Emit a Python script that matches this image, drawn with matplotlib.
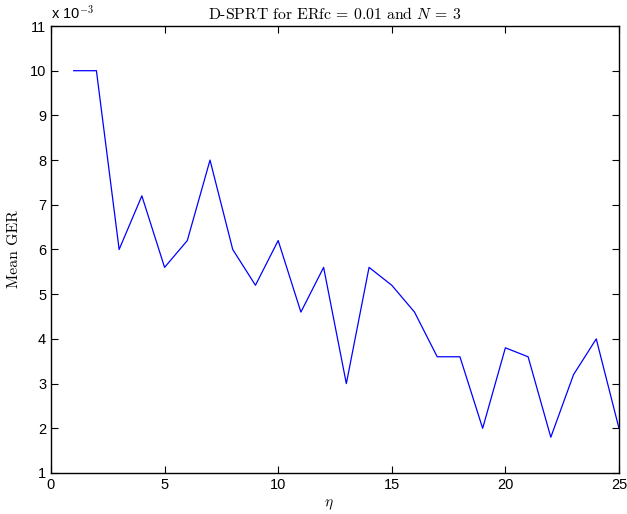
"""Mean GER versus eta for D-SPRT."""

import matplotlib
matplotlib.use("Agg")
import matplotlib.pyplot as plt
from matplotlib.ticker import FuncFormatter

plt.rcParams["mathtext.fontset"] = "cm"
plt.rcParams["font.family"] = ["Liberation Sans", "DejaVu Sans"]

eta = list(range(1, 26))
mean_ger = [0.0100, 0.0100, 0.0060, 0.0072, 0.0056, 0.0062, 0.0080, 0.0060,
            0.0052, 0.0062, 0.0046, 0.0056, 0.0030, 0.0056, 0.0052, 0.0046,
            0.0036, 0.0036, 0.0020, 0.0038, 0.0036, 0.0018, 0.0032, 0.0040,
            0.0020]
xticks = [0, 5, 10, 15, 20, 25]
yticks = [0.001 * k for k in range(1, 12)]


def main():
    fig = plt.figure(figsize=(6.27, 5.14), dpi=100)
    ax = fig.add_axes([0.0813, 0.0798, 0.9059, 0.8696])
    ax.plot(eta, mean_ger, color="#0000ff", linewidth=0.9)

    ax.set_xlim(0, 25)
    ax.set_ylim(0.001, 0.011)
    ax.set_xticks(xticks)
    ax.set_yticks(yticks)
    ax.yaxis.set_major_formatter(FuncFormatter(lambda v, p: f"{v * 1e3:.0f}"))
    ax.tick_params(direction="in", length=5, width=0.8, top=True, right=True,
                   labelsize=10.5, colors="black")
    for s in ax.spines.values():
        s.set_linewidth(1.0)

    ax.text(0.0, 1.01, r"x 10$^{-3}$", transform=ax.transAxes, fontsize=10.5,
            ha="left", va="bottom")
    ax.set_title(r"D-SPRT for ERfc = 0.01 and $N$ = 3", fontfamily="cmr10",
                 fontsize=11.3, pad=5)
    ax.set_xlabel(r"$\eta$", fontsize=11, labelpad=2)
    ax.xaxis.set_label_coords(0.49, -0.055)
    ax.set_ylabel("Mean GER", fontfamily="cmr10", fontsize=11.3)
    ax.yaxis.set_label_coords(-0.052, 0.5)

    fig.savefig("out.png", dpi=100)


if __name__ == "__main__":
    main()
